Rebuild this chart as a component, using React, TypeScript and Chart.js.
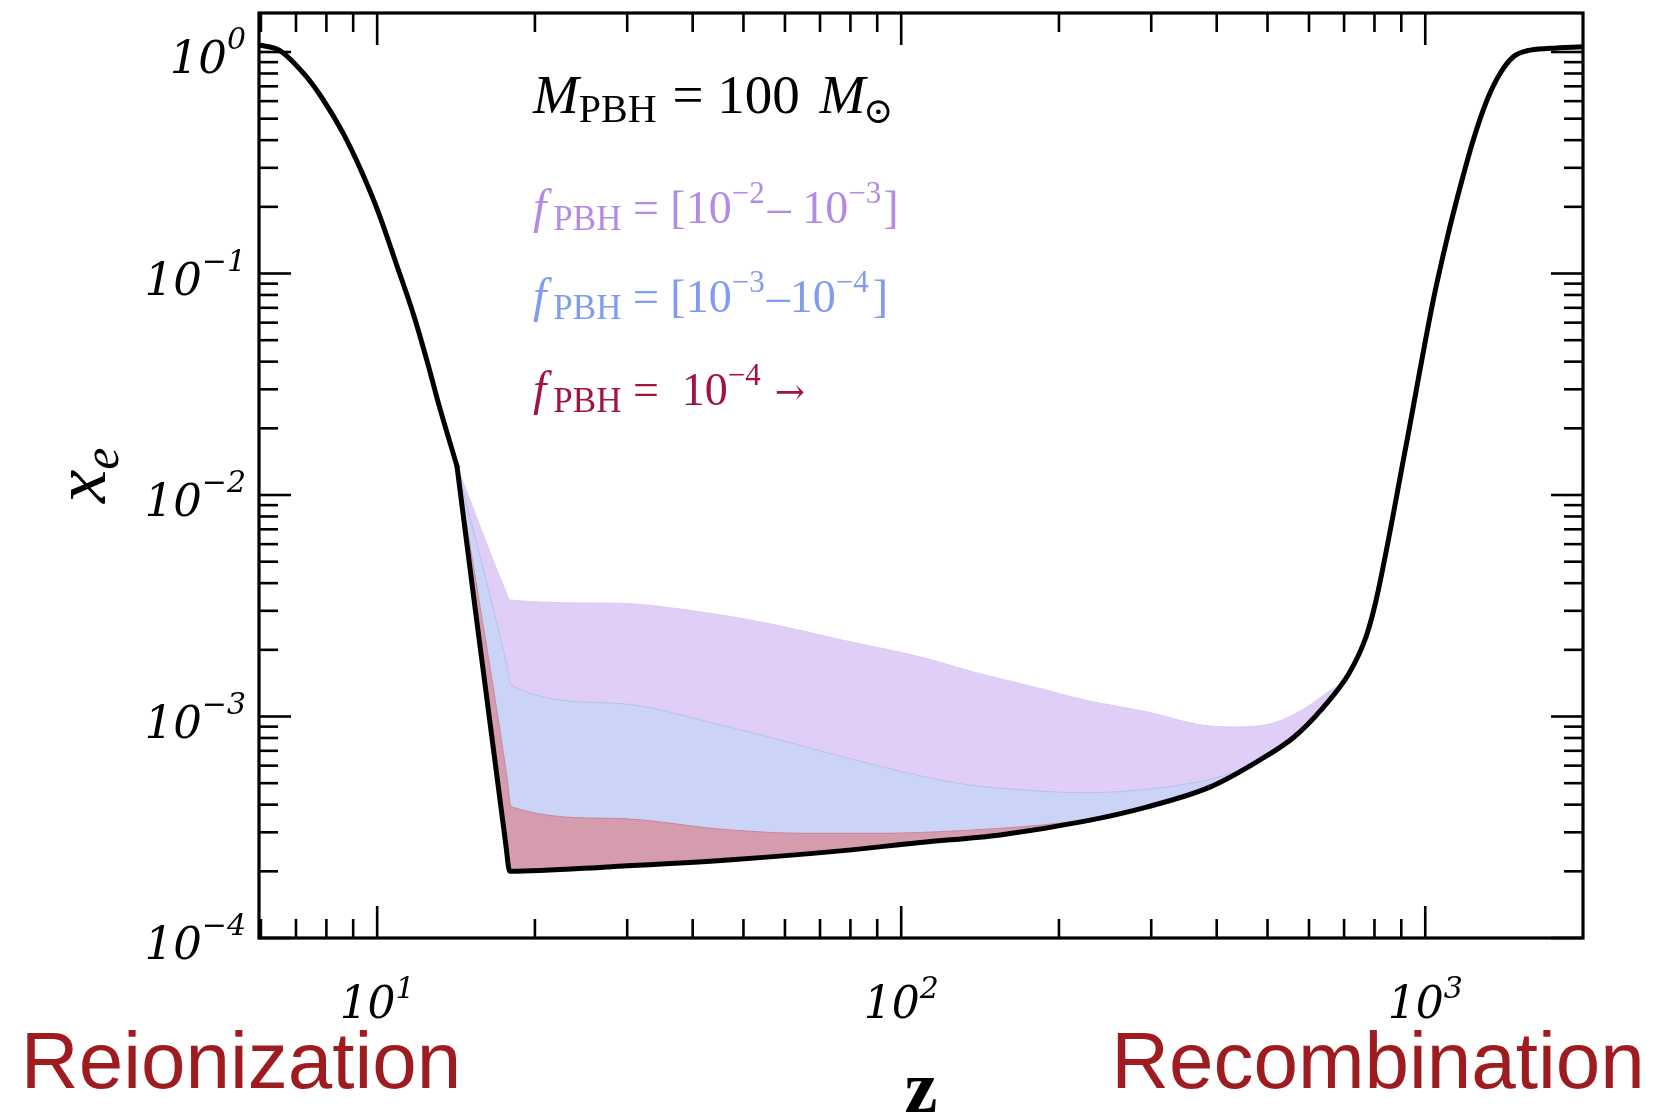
import React, { useEffect, useRef } from "react";
import { Chart, registerables } from "chart.js";

Chart.register(...registerables);

const W = 1656;
const H = 1115;

// Baseline ionization history x_e(z) (black curve)
const baseZ = [5.95, 6.5, 7.24, 7.82, 8.61, 9.31, 10.07, 10.87, 11.77, 12.54, 13.04, 14.2, 17.6, 17.9, 28.1, 46.7, 77.5, 108.6, 154.5, 223, 294, 389, 484, 562, 639, 716, 771, 806, 916, 1036, 1099, 1166, 1235, 1312, 1391, 1473, 1564, 1732, 2000];
const baseXe = [1.076, 1.02, 0.8, 0.628, 0.43, 0.293, 0.187, 0.111, 0.0637, 0.0379, 0.0268, 0.0135, 2.64e-4, 2.0e-4, 2.1e-4, 2.25e-4, 2.48e-4, 2.7e-4, 2.92e-4, 3.36e-4, 3.9e-4, 4.81e-4, 6.37e-4, 8.08e-4, 1.1e-3, 1.57e-3, 2.29e-3, 3.36e-3, 0.016, 0.0759, 0.1417, 0.2464, 0.401, 0.607, 0.804, 0.952, 1.013, 1.039, 1.057];
// redshift where the reionization tail meets the PBH-affected region (kink)
const zKink = 14.2;

// f_PBH = 1e-2 upper edge (purple band)
const purpleZ = [14.2, 17.6, 17.9, 28.1, 42.9, 55.3, 77.5, 108.6, 140, 186, 223, 294, 375, 434, 513, 582, 665, 690];
const purpleXe = [0.0135, 3.67e-3, 3.36e-3, 3.25e-3, 2.93e-3, 2.64e-3, 2.21e-3, 1.86e-3, 1.57e-3, 1.33e-3, 1.19e-3, 1.05e-3, 9.15e-4, 8.97e-4, 9.35e-4, 1.07e-3, 1.33e-3, 1.4e-3];

// f_PBH = 1e-3 upper edge (blue band)
const blueZ = [14.2, 17.7, 18.0, 28.1, 46.7, 65.5, 91.8, 128.8, 154.5, 223, 323, 427, 505];
const blueXe = [0.0135, 1.68e-3, 1.39e-3, 1.15e-3, 9.0e-4, 7.31e-4, 5.93e-4, 4.99e-4, 4.75e-4, 4.53e-4, 4.82e-4, 5.56e-4, 6.82e-4];

// f_PBH = 1e-4 upper edge (red band)
const redZ = [14.2, 17.7, 18.0, 28.1, 46.7, 65.5, 91.8, 128.8, 186, 235];
const redXe = [0.0135, 5.27e-4, 3.92e-4, 3.47e-4, 3.08e-4, 2.97e-4, 2.97e-4, 3.05e-4, 3.24e-4, 3.46e-4];

// Axis ticks
const xMajor = [10, 100, 1000];
const xMajorExp = ["1", "2", "3"];
const xMinor = [6, 7, 8, 9, 20, 30, 40, 50, 60, 70, 80, 90, 200, 300, 400, 500, 600, 700, 800, 900];
const yMajor = [1e-4, 1e-3, 1e-2, 1e-1, 1];
const yMajorExp = ["−4", "−3", "−2", "−1", "0"];
const yMinorMult = [2, 3, 4, 5, 6, 7, 8, 9];
const yMinorDecades = [1e-4, 1e-3, 1e-2, 1e-1];

const SERIF = '"Liberation Serif", "Times New Roman", serif';
const MATH = '"DejaVu Serif", serif';
const SANS = '"Liberation Sans", Arial, sans-serif';

const toPts = (xs: number[], ys: number[]) => xs.map((x, i) => ({ x, y: ys[i] }));

type Run = { t: string; f: string; dy?: number; dx?: number };

function drawRuns(ctx: CanvasRenderingContext2D, x: number, y: number, runs: Run[], color: string) {
  ctx.fillStyle = color;
  ctx.textAlign = "left";
  ctx.textBaseline = "alphabetic";
  let cx = x;
  for (const r of runs) {
    cx += r.dx || 0;
    ctx.font = r.f;
    ctx.fillText(r.t, cx, y + (r.dy || 0));
    cx += ctx.measureText(r.t).width;
  }
}

const decor = {
  id: "decor",
  afterDraw(chart: any) {
    const { ctx, chartArea: a, scales } = chart;
    const xs = scales.x;
    const ys = scales.y;
    ctx.save();
    ctx.strokeStyle = "#000";
    ctx.lineCap = "butt";
    const seg = (x1: number, y1: number, x2: number, y2: number) => {
      ctx.beginPath();
      ctx.moveTo(x1, y1);
      ctx.lineTo(x2, y2);
      ctx.stroke();
    };
    ctx.lineWidth = 2.6;
    const MAJ = 32;
    const MIN = 19;
    xMinor.forEach((v) => {
      const p = xs.getPixelForValue(v);
      seg(p, a.bottom, p, a.bottom - MIN);
      seg(p, a.top, p, a.top + MIN);
    });
    xMajor.forEach((v) => {
      const p = xs.getPixelForValue(v);
      seg(p, a.bottom, p, a.bottom - MAJ);
      seg(p, a.top, p, a.top + MAJ);
    });
    yMinorDecades.forEach((d) => {
      yMinorMult.forEach((m) => {
        const p = ys.getPixelForValue(d * m);
        seg(a.left, p, a.left + MIN, p);
        seg(a.right, p, a.right - MIN, p);
      });
    });
    yMajor.forEach((v) => {
      const p = ys.getPixelForValue(v);
      seg(a.left, p, a.left + MAJ, p);
      seg(a.right, p, a.right - MAJ, p);
    });
    ctx.lineWidth = 3.2;
    ctx.strokeRect(a.left, a.top, a.right - a.left, a.bottom - a.top);

    // y tick labels
    ctx.fillStyle = "#000";
    ctx.textBaseline = "alphabetic";
    ctx.textAlign = "left";
    const labRight = a.left - 13;
    yMajor.forEach((v, i) => {
      const p = ys.getPixelForValue(v);
      ctx.font = `italic 30px ${MATH}`;
      const sw = ctx.measureText(yMajorExp[i]).width;
      ctx.fillText(yMajorExp[i], labRight - sw, p - 3);
      ctx.font = `italic 45px ${MATH}`;
      const bw = ctx.measureText("10").width;
      ctx.fillText("10", labRight - sw - bw, p + 21);
    });
    // x tick labels
    xMajor.forEach((v, i) => {
      const p = xs.getPixelForValue(v);
      ctx.font = `italic 44px ${MATH}`;
      const bw = ctx.measureText("10").width;
      ctx.font = `italic 30px ${MATH}`;
      const sw = ctx.measureText(xMajorExp[i]).width;
      const start = p - (bw + sw) / 2;
      ctx.font = `italic 44px ${MATH}`;
      ctx.fillText("10", start, a.bottom + 80);
      ctx.font = `italic 30px ${MATH}`;
      ctx.fillText(xMajorExp[i], start + bw, a.bottom + 60);
    });

    // axis titles
    ctx.save();
    ctx.translate(105, 503);
    ctx.rotate(-Math.PI / 2);
    ctx.font = `italic 75px ${SERIF}`;
    ctx.fillStyle = "#000";
    ctx.fillText("x", 0, 0);
    const xw = ctx.measureText("x").width;
    ctx.font = `italic 50px ${SERIF}`;
    ctx.fillText("e", xw, 13);
    ctx.restore();

    ctx.font = `bold 74px ${SERIF}`;
    ctx.textAlign = "center";
    ctx.fillStyle = "#000";
    ctx.fillText("z", 921, 1112);

    // era labels
    ctx.font = `80px ${SANS}`;
    ctx.fillStyle = "#9e1c1f";
    ctx.textAlign = "center";
    ctx.fillText("Reionization", 241, 1088);
    ctx.fillText("Recombination", 1378, 1088);

    // annotations
    const ax = 533;
    drawRuns(ctx, ax, 113, [
      { t: "M", f: `italic 55px ${SERIF}` },
      { t: "PBH", f: `40px ${SERIF}`, dy: 9 },
      { t: " = 100 ", f: `55px ${SERIF}`, dx: 2 },
      { t: "M", f: `italic 55px ${SERIF}`, dx: 6 },
      { t: "⊙", f: `36px "DejaVu Serif", serif`, dy: 10, dx: -2 },
    ], "#000");
    drawRuns(ctx, ax, 223, [
      { t: "f", f: `italic 48px ${SERIF}` },
      { t: "PBH", f: `35px ${SERIF}`, dy: 7, dx: 7 },
      { t: " = [10", f: `46px ${SERIF}` },
      { t: "−2", f: `31px ${SERIF}`, dy: -20 },
      { t: "– 10", f: `46px ${SERIF}`, dx: 3 },
      { t: "−3", f: `31px ${SERIF}`, dy: -20 },
      { t: "]", f: `46px ${SERIF}`, dx: 2 },
    ], "#b38be7");
    drawRuns(ctx, ax, 312, [
      { t: "f", f: `italic 48px ${SERIF}` },
      { t: "PBH", f: `35px ${SERIF}`, dy: 7, dx: 7 },
      { t: " = [10", f: `46px ${SERIF}` },
      { t: "−3", f: `31px ${SERIF}`, dy: -20 },
      { t: "–10", f: `46px ${SERIF}`, dx: 2 },
      { t: "−4", f: `31px ${SERIF}`, dy: -20 },
      { t: "]", f: `46px ${SERIF}`, dx: 4 },
    ], "#7f9cf0");
    drawRuns(ctx, ax, 405, [
      { t: "f", f: `italic 48px ${SERIF}` },
      { t: "PBH", f: `35px ${SERIF}`, dy: 7, dx: 7 },
      { t: " =  10", f: `46px ${SERIF}` },
      { t: "−4", f: `31px ${SERIF}`, dy: -20 },
      { t: "→", f: `36px "DejaVu Serif", serif`, dx: 14, dy: -1 },
    ], "#a3143d");

    ctx.restore();
  },
};

export default function App() {
  const ref = useRef<HTMLCanvasElement | null>(null);
  useEffect(() => {
    if (!ref.current) return;
    const common = {
      pointRadius: 0,
      cubicInterpolationMode: "monotone",
    };
    const basePts = toPts(baseZ, baseXe);
    const lateBase = basePts.filter((p) => p.x >= zKink);
    const earlyBase = basePts.filter((p) => p.x <= zKink);
    const blackLine = {
      ...common,
      borderColor: "#000",
      borderWidth: 5,
      borderCapStyle: "round",
      borderJoinStyle: "round",
      fill: false,
    };
    const chart = new Chart(ref.current, {
      type: "line",
      data: {
        datasets: [
          { ...blackLine, label: "baseline (late)", data: lateBase },
          { ...blackLine, label: "baseline (early)", data: earlyBase },
          {
            ...common,
            label: "f=1e-4",
            data: toPts(redZ, redXe),
            borderColor: "rgba(200,130,152,0.9)",
            backgroundColor: "#d59cae",
            borderWidth: 1,
            fill: 0,
          },
          {
            ...common,
            label: "f=1e-3",
            data: toPts(blueZ, blueXe),
            borderColor: "rgba(180,190,240,0.9)",
            backgroundColor: "#cbd3f7",
            borderWidth: 1,
            fill: 0,
          },
          {
            ...common,
            label: "f=1e-2",
            data: toPts(purpleZ, purpleXe),
            borderColor: "#dccbf4",
            backgroundColor: "#e0cef6",
            borderWidth: 1,
            fill: 0,
          },
        ],
      } as any,
      options: {
        responsive: false,
        animation: false,
        devicePixelRatio: 1,
        layout: { padding: { left: 259, right: W - 1583, top: 13, bottom: H - 938 } },
        scales: {
          x: { type: "logarithmic", min: 5.95, max: 2000, display: false },
          y: { type: "logarithmic", min: 1e-4, max: 1.5, display: false },
        },
        plugins: {
          legend: { display: false },
          tooltip: { enabled: false },
        },
        events: [],
      } as any,
      plugins: [decor],
    });
    return () => chart.destroy();
  }, []);
  return (
    <div style={{ position: "fixed", left: 0, top: 0, width: W, height: H, background: "#fff" }}>
      <canvas ref={ref} width={W} height={H} style={{ display: "block" }} />
    </div>
  );
}
